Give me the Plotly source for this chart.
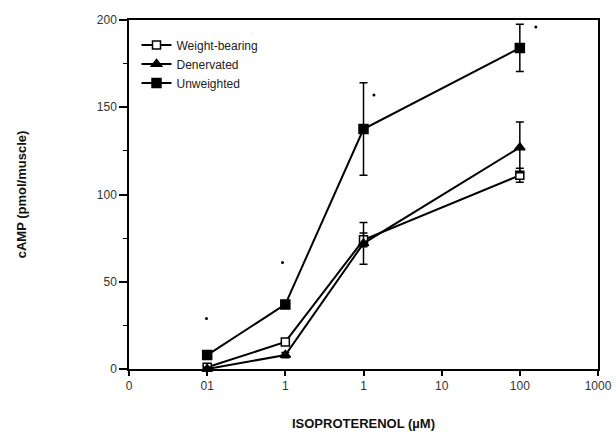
import plotly.graph_objects as go

# ---- data ----
conc = [0.01, 0.1, 1, 100]  # isoproterenol, µM

wb_y = [1, 15.5, 74, 111]
wb_err = [1, 1.5, 4, 4]

den_y = [0, 8, 72, 127]
den_err = [1, 1.5, 12, 14.5]

uw_y = [8, 37, 137.5, 184]
uw_err = [1, 2, 26.5, 13.5]

sig_x = [0.0098, 0.092, 1.36, 160]
sig_y = [29, 61, 157, 196]

x_tickvals = [0.001, 0.01, 0.1, 1, 10, 100, 1000]
x_ticktext = ["0", "01", "1", "1", "10", "100", "1000"]
y_tickvals = [0, 50, 100, 150, 200]

FONT = "Liberation Sans, Arial, Helvetica, sans-serif"

fig = go.Figure()

def add_series(name, y, err, symbol, fill, size):
    fig.add_trace(go.Scatter(
        x=conc, y=y, name=name, mode="lines+markers",
        line=dict(color="black", width=2),
        marker=dict(symbol=symbol, size=size, color=fill,
                    line=dict(color="black", width=1.5)),
        error_y=dict(type="data", array=err, visible=True,
                     color="black", thickness=1.5, width=4),
        cliponaxis=False,
    ))

add_series("Weight-bearing", wb_y, wb_err, "square", "white", 8)
add_series("Denervated", den_y, den_err, "triangle-up", "black", 9)
add_series("Unweighted", uw_y, uw_err, "square", "black", 9)

fig.add_trace(go.Scatter(
    x=sig_x, y=sig_y, mode="markers", showlegend=False,
    marker=dict(symbol="circle", size=3, color="black"),
    cliponaxis=False,
))

fig.update_layout(
    width=616, height=436,
    margin=dict(l=129, r=18, t=20, b=67),
    paper_bgcolor="white", plot_bgcolor="white",
    font=dict(family=FONT, size=12, color="#222"),
    showlegend=True,
    legend=dict(
        x=0.016, y=0.97, xanchor="left", yanchor="top",
        bgcolor="rgba(0,0,0,0)", borderwidth=0,
        font=dict(family=FONT, size=12, color="#222"),
        itemwidth=30, tracegroupgap=0,
    ),
)

fig.update_xaxes(
    type="log", range=[-3, 3],
    tickmode="array", tickvals=x_tickvals, ticktext=x_ticktext,
    ticks="outside", ticklen=5, tickwidth=1.5, tickcolor="black",
    showline=True, linecolor="black", linewidth=1.5, mirror=True,
    showgrid=False, zeroline=False, automargin=False,
    tickfont=dict(family=FONT, size=12, color="#333"),
    title=dict(text="<b>ISOPROTERENOL (µM)</b>", standoff=27,
               font=dict(family=FONT, size=13, color="#111")),
)

fig.update_yaxes(
    range=[0, 200],
    tickmode="array", tickvals=y_tickvals,
    ticks="outside", ticklen=8, tickwidth=1.5, tickcolor="black",
    minor=dict(dtick=25, ticks="outside", ticklen=4, tickwidth=1, tickcolor="black", showgrid=False),
    showline=True, linecolor="black", linewidth=1.5, mirror=True,
    showgrid=False, zeroline=False, automargin=False,
    tickfont=dict(family=FONT, size=12, color="#333"),
    title=dict(text="<b>cAMP (pmol/muscle)</b>", standoff=67,
               font=dict(family=FONT, size=13, color="#111")),
)

fig.write_html("out.html")
